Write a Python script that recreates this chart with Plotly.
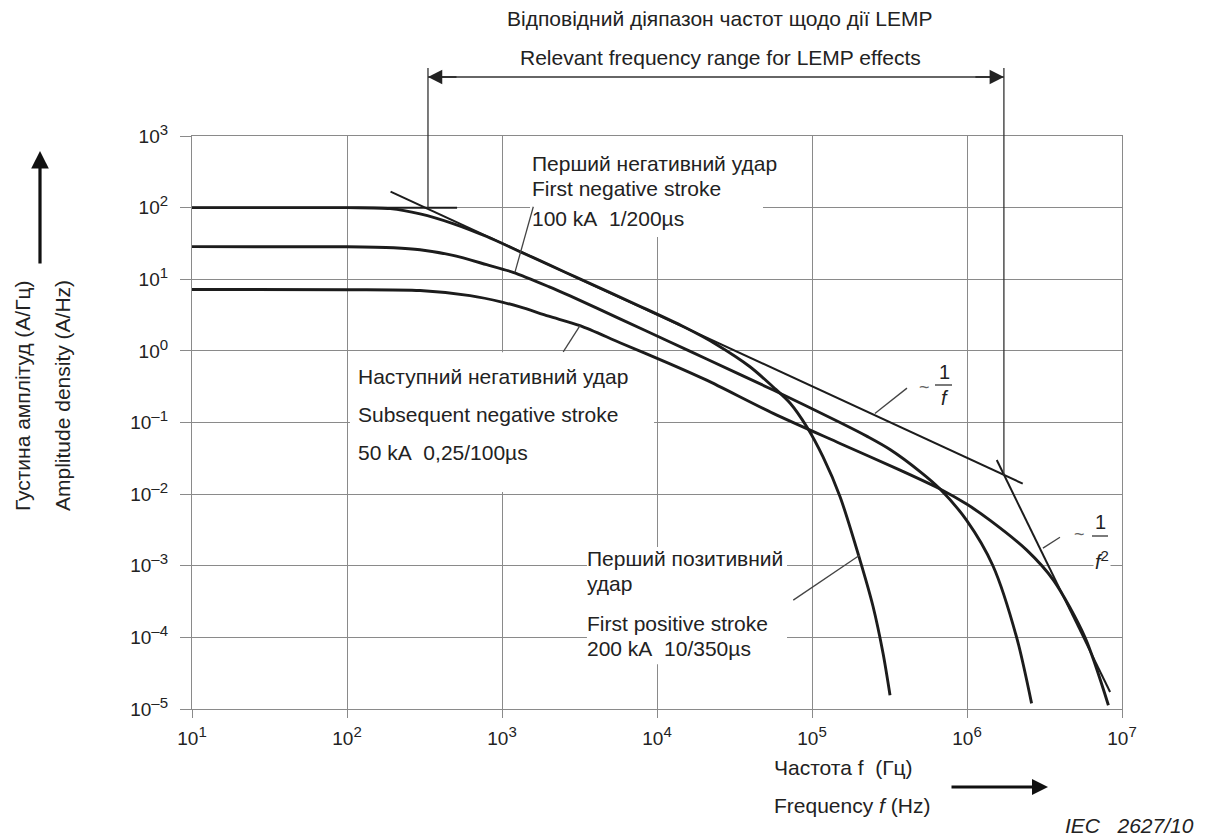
import math
import plotly.graph_objects as go

# ---------------- data ----------------
x_tick_vals = [1e1, 1e2, 1e3, 1e4, 1e5, 1e6, 1e7]
x_exponents = ["1", "2", "3", "4", "5", "6", "7"]
y_tick_vals = [1e-5, 1e-4, 1e-3, 1e-2, 1e-1, 1e0, 1e1, 1e2, 1e3]
y_exponents = ["–5", "–4", "–3", "–2", "–1", "0", "1", "2", "3"]

# First positive stroke 200 kA 10/350 us
pos_freq = [10, 100, 190, 296, 483, 796, 1306, 2000, 3000, 7760, 15000, 24300, 39800, 56000,
            72100, 92500, 117800, 151700, 204000, 247700, 287300, 318700]
pos_amp = [100, 100, 97, 82, 60, 39.5, 24.3, 16.0, 10.7, 4.2, 2.15, 1.22, 0.60, 0.315,
           0.187, 0.087, 0.033, 0.0092, 0.0012, 2.7e-4, 6.0e-5, 1.56e-5]

# First negative stroke 100 kA 1/200 us
neg_freq = [10, 100, 200, 296, 483, 796, 1178, 2000, 2750, 5770, 12130, 20900, 56200, 151700,
            230000, 318700, 500000, 670000, 995000, 1.47e6, 2.09e6, 2.61e6]
neg_amp = [28.5, 28.4, 27.5, 25.8, 21.5, 16.0, 12.5, 7.9, 5.85, 2.8, 1.33, 0.77, 0.284, 0.100,
           0.063, 0.042, 0.0205, 0.0118, 0.0043, 1.0e-3, 1.0e-4, 1.2e-5]

# Subsequent negative stroke 50 kA 0,25/100 us
sub_freq = [10, 100, 296, 622, 1000, 1306, 2000, 3186, 5770, 12130, 20900, 56200, 151700,
            370000, 670000, 1.0e6, 1.41e6, 2.43e6, 3.61e6, 5.77e6, 8.17e6]
sub_amp = [7.2, 7.15, 6.95, 5.9, 4.8, 4.1, 3.05, 2.25, 1.3, 0.66, 0.39, 0.134, 0.051,
           0.0216, 0.0118, 0.0072, 0.0043, 0.00165, 6.3e-4, 1.0e-4, 1.13e-5]

# reference lines
flat_freq = [10, 513]
flat_amp = [100, 100]
inv_f_freq = [191, 2.29e6]
inv_f_amp = [167, 0.0140]
inv_f2_freq = [1.556e6, 8.38e6]
inv_f2_amp = [0.0299, 1.73e-5]

# relevant LEMP frequency range (boundaries and where they meet the 1/f line)
lemp_freq = [333, 1.73e6]
lemp_foot_amp = [100, 0.0184]

# leader lines of the labels
lead_neg_freq = [1592, 1213];      lead_neg_amp = [103, 12.6]
lead_sub_freq = [2483, 3186];      lead_sub_amp = [0.97, 2.25]
lead_pos_freq = [75700, 204000];   lead_pos_amp = [3.31e-4, 1.41e-3]
lead_invf_freq = [254500, 410000]; lead_invf_amp = [0.134, 0.302]
lead_invf2_freq = [3.09e6, 3.98e6]; lead_invf2_amp = [1.76e-3, 2.5e-3]

# ---------------- layout helpers ----------------
W_FIG, H_FIG = 1210, 836
L, T, W, H = 192, 136, 930, 573
FONT = "Liberation Sans, Arial, sans-serif"
INK = "#1c1c1c"
GRID = "#8a8a8a"
LBL = 21


def pxp(x):
    return (x - L) / W


def pyp(y):
    return (T + H - y) / H


def pow_label(e):
    return '10<sup><span style="font-size:15px">' + e + '</span></sup>'


fig = go.Figure()

curve_style = dict(color=INK, width=2.9, shape="spline", smoothing=0.8)
for fx, fy in [(pos_freq, pos_amp), (neg_freq, neg_amp), (sub_freq, sub_amp)]:
    fig.add_trace(go.Scatter(x=fx, y=fy, mode="lines", line=curve_style, hoverinfo="skip"))

for fx, fy in [(flat_freq, flat_amp), (inv_f_freq, inv_f_amp), (inv_f2_freq, inv_f2_amp)]:
    fig.add_trace(go.Scatter(x=fx, y=fy, mode="lines", line=dict(color=INK, width=2.0),
                             hoverinfo="skip"))

for fx, fy in [(lead_neg_freq, lead_neg_amp), (lead_sub_freq, lead_sub_amp),
               (lead_pos_freq, lead_pos_amp), (lead_invf_freq, lead_invf_amp),
               (lead_invf2_freq, lead_invf2_amp)]:
    fig.add_trace(go.Scatter(x=fx, y=fy, mode="lines", line=dict(color="#444", width=1.3),
                             hoverinfo="skip"))

# LEMP boundaries: inside plot (data) + above plot (paper)
for f, a in zip(lemp_freq, lemp_foot_amp):
    fig.add_trace(go.Scatter(x=[f, f], y=[a, 1e3], mode="lines",
                             line=dict(color="#333", width=1.3), hoverinfo="skip"))
    fig.add_shape(type="line", xref="x", yref="paper", x0=f, x1=f, y0=1, y1=pyp(68),
                  line=dict(color="#333", width=1.3))

# double arrow of the LEMP range
fig.add_shape(type="line", xref="x", yref="paper", x0=lemp_freq[0], x1=lemp_freq[1],
              y0=pyp(77), y1=pyp(77), line=dict(color="#333", width=1.3))
fig.add_annotation(x=math.log10(lemp_freq[1]), y=pyp(77), xref="x", yref="paper",
                   ax=-30, ay=0, text="", showarrow=True, arrowhead=2, arrowsize=2.2,
                   arrowwidth=1.3, arrowcolor="#222")
fig.add_annotation(x=math.log10(lemp_freq[0]), y=pyp(77), xref="x", yref="paper",
                   ax=30, ay=0, text="", showarrow=True, arrowhead=2, arrowsize=2.2,
                   arrowwidth=1.3, arrowcolor="#222")

# white label backgrounds (cover gridlines only)
for x0, x1, y0, y1 in [(1517, 48300, 38.8, 1000), (104.5, 9570, 0.0107, 0.96),
                       (3533, 69000, 4.2e-5, 1.82e-3)]:
    fig.add_shape(type="rect", xref="x", yref="y", x0=x0, x1=x1, y0=y0, y1=y1,
                  fillcolor="white", line=dict(width=0), layer="between")


# ---------------- texts ----------------
def txt(x, y, s, size=LBL, anchor="left", **kw):
    fig.add_annotation(x=pxp(x), y=pyp(y), xref="paper", yref="paper", text=s,
                       showarrow=False, xanchor=anchor, yanchor="middle",
                       font=dict(size=size, color="#222", family=FONT), **kw)


txt(720, 19, "Відповідний діяпазон частот щодо дії LEMP", size=21, anchor="center")
txt(720, 58, "Relevant frequency range for LEMP effects", size=21, anchor="center")

txt(530, 163, "Перший негативний удар")
txt(530, 188, "First negative stroke")
txt(530, 219, "100 kA\u00a0\u00a01/200µs")

txt(356, 376, "Наступний негативний удар")
txt(356, 414, "Subsequent negative stroke")
txt(356, 452, "50 kA\u00a0\u00a00,25/100µs")

txt(585, 558, "Перший позитивний")
txt(585, 583, "удар")
txt(585, 623, "First positive stroke")
txt(585, 648, "200 kA\u00a0\u00a010/350µs")

# ~1/f label
txt(924, 387, "~", size=18, anchor="center", opacity=0.7)
txt(944, 372, "1", size=20, anchor="center")
txt(945, 398, "<i>f</i>", size=20, anchor="center")
fig.add_shape(type="line", xref="paper", yref="paper", x0=pxp(935), x1=pxp(952),
              y0=pyp(385), y1=pyp(385), line=dict(color="#222", width=1.2), layer="above")

# ~1/f^2 label
txt(1079, 534, "~", size=18, anchor="center", opacity=0.7)
txt(1100, 522, "1", size=20, anchor="center")
txt(1102, 560, '<i>f</i><sup><span style="font-size:15px">2</span></sup>', size=20,
    anchor="center", bgcolor="white")
fig.add_shape(type="line", xref="paper", yref="paper", x0=pxp(1092), x1=pxp(1108),
              y0=pyp(536), y1=pyp(536), line=dict(color="#222", width=1.2), layer="above")

# axis titles
txt(772, 767, "Частота f\u00a0\u00a0(Гц)")
txt(772, 805, "Frequency <i>f</i> (Hz)")
txt(1196, 825, "<i>IEC\u00a0\u00a0 2627/10</i>", anchor="right")
txt(22, 396, "Густина амплітуд (А/Гц)", anchor="center", textangle=-90)
txt(62, 396, "Amplitude density (A/Hz)", anchor="center", textangle=-90)

# axis arrows
fig.add_annotation(x=pxp(40), y=pyp(151), xref="paper", yref="paper", ax=0, ay=114,
                   text="", showarrow=True, arrowhead=2, arrowsize=1.1, arrowwidth=3.2,
                   arrowcolor="#111")
fig.add_annotation(x=pxp(1048), y=pyp(787), xref="paper", yref="paper", ax=-98, ay=0,
                   text="", showarrow=True, arrowhead=2, arrowsize=1.0, arrowwidth=3.2,
                   arrowcolor="#111")

axis_common = dict(type="log", showgrid=True, gridcolor=GRID, gridwidth=1.3,
                   showline=True, linecolor=GRID, linewidth=1.3, mirror=True,
                   ticks="outside", tickcolor=GRID, tickwidth=1.3, zeroline=False,
                   tickfont=dict(size=19, color="#222", family=FONT))

fig.update_layout(
    width=W_FIG, height=H_FIG,
    margin=dict(l=L, r=W_FIG - L - W, t=T, b=H_FIG - T - H),
    plot_bgcolor="white", paper_bgcolor="white", showlegend=False,
    font=dict(family=FONT, color="#222"),
    xaxis=dict(range=[1, 7], tickvals=x_tick_vals, ticktext=[pow_label(e) for e in x_exponents],
               ticklen=8, ticklabelstandoff=4, **axis_common),
    yaxis=dict(range=[-5, 3], tickvals=y_tick_vals, ticktext=[pow_label(e) for e in y_exponents],
               ticklen=11, ticklabelstandoff=8, **axis_common),
)

fig.write_html("out.html")
